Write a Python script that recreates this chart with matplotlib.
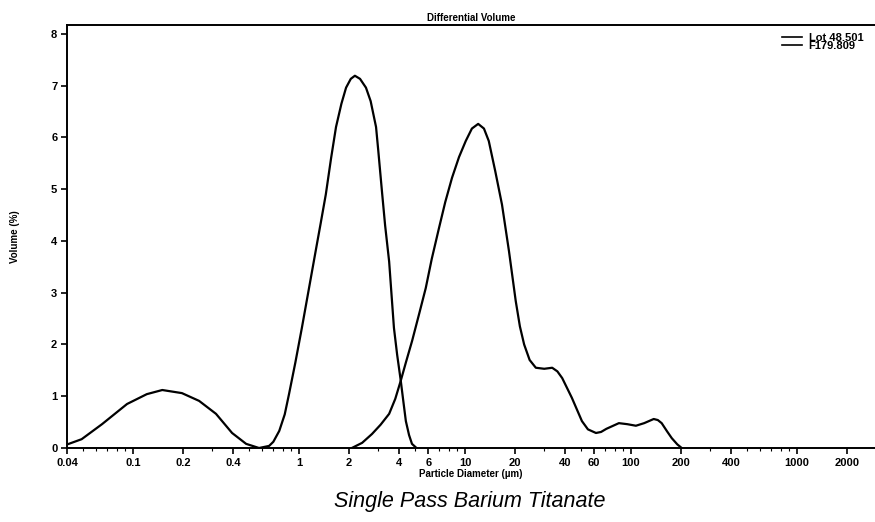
import matplotlib
matplotlib.use("Agg")
import matplotlib.pyplot as plt
from matplotlib.ticker import FixedLocator, NullFormatter, LogLocator

plt.rcParams['font.family'] = ['Liberation Sans', 'DejaVu Sans']

# Data
lot_x = [0.041, 0.049, 0.065, 0.092, 0.121, 0.15, 0.197, 0.25, 0.316, 0.395, 0.48, 0.574, 0.66,
         0.70, 0.76, 0.82, 0.87, 0.95, 1.04, 1.15, 1.27, 1.35, 1.45, 1.56, 1.67, 1.8, 1.92, 2.05,
         2.17, 2.33, 2.53, 2.7, 2.91, 3.0, 3.16, 3.3, 3.49, 3.6, 3.73, 3.9, 4.1, 4.25, 4.4, 4.6,
         4.79, 5.1]
lot_y = [0.08, 0.17, 0.46, 0.85, 1.04, 1.12, 1.06, 0.91, 0.66, 0.29, 0.08, 0.0, 0.04,
         0.12, 0.33, 0.65, 1.04, 1.65, 2.32, 3.1, 3.87, 4.34, 4.9, 5.6, 6.2, 6.65, 6.96, 7.13,
         7.19, 7.13, 6.96, 6.7, 6.2, 5.75, 4.95, 4.3, 3.6, 3.0, 2.32, 1.8, 1.3, 0.9, 0.52, 0.25,
         0.08, 0.0]

f_x = [2.08, 2.4, 2.75, 3.1, 3.49, 3.8, 4.1, 4.4, 4.8, 5.3, 5.8, 6.3, 6.97, 7.6, 8.35, 9.2,
       10.1, 11.0, 12.0, 13.0, 13.9, 15.2, 16.7, 18.4, 20.2, 21.4, 22.7, 24.5, 26.7, 30, 33.5,
       36, 38.5, 44, 50.6, 55, 61.5, 66, 71, 84.5, 95, 107, 120, 137, 145, 153, 165, 176, 190,
       202]
f_y = [0.0, 0.1, 0.27, 0.45, 0.66, 0.95, 1.3, 1.65, 2.07, 2.6, 3.09, 3.65, 4.25, 4.75, 5.22,
       5.62, 5.93, 6.17, 6.26, 6.17, 5.93, 5.35, 4.7, 3.8, 2.84, 2.35, 2.0, 1.7, 1.55, 1.53,
       1.55, 1.48, 1.35, 0.97, 0.52, 0.36, 0.29, 0.31, 0.37, 0.48, 0.46, 0.43, 0.48, 0.56, 0.54,
       0.48, 0.32, 0.19, 0.07, 0.0]

series_labels = ["Lot 48.501", "F179.809"]
x_ticks = [0.04, 0.1, 0.2, 0.4, 1, 2, 4, 6, 10, 20, 40, 60, 100, 200, 400, 1000, 2000]
x_tick_labels = ["0.04", "0.1", "0.2", "0.4", "1", "2", "4", "6", "10", "20", "40", "60",
                 "100", "200", "400", "1000", "2000"]
y_ticks = [0, 1, 2, 3, 4, 5, 6, 7, 8]

fig = plt.figure(figsize=(8.75, 5.22), dpi=100)
ax = fig.add_axes([67/875, 1 - 448/522, 1 - 67/875, (448 - 25)/522])

ax.plot(lot_x, lot_y, color="black", lw=1.6, label=series_labels[0], solid_joinstyle="round")
ax.plot(f_x, f_y, color="black", lw=1.6, label=series_labels[1], solid_joinstyle="round")

ax.set_xscale("log")
ax.set_xlim(0.04, 2950)
ax.set_ylim(0, 8.17)
ax.xaxis.set_major_locator(FixedLocator(x_ticks))
ax.set_xticklabels(x_tick_labels, fontsize=8, fontweight="bold")
ax.xaxis.set_minor_locator(LogLocator(base=10, subs=range(1, 10), numticks=20))
ax.xaxis.set_minor_formatter(NullFormatter())
ax.set_yticks(y_ticks)
ax.set_yticklabels([str(v) for v in y_ticks], fontsize=8, fontweight="bold")
ax.tick_params(axis="both", which="major", length=4, width=1.2, pad=3)
ax.tick_params(axis="x", which="minor", length=2, width=0.8)
for s in ["left", "bottom", "top"]:
    ax.spines[s].set_linewidth(1.4)
ax.spines["right"].set_visible(False)

ax.set_title("Differential Volume", fontsize=7, fontweight="bold", pad=3)
ax.set_xlabel("Particle Diameter (µm)", fontsize=7, fontweight="bold", labelpad=1)
ax.set_ylabel("Volume (%)", fontsize=7, fontweight="bold", labelpad=22)

leg = ax.legend(loc="upper right", fontsize=8, frameon=False, handlelength=1.8,
                labelspacing=-0.15, borderaxespad=0.3, handletextpad=0.6,
                bbox_to_anchor=(0.995, 1.0))
for t in leg.get_texts():
    t.set_fontweight("bold")
for h in leg.get_lines():
    h.set_linewidth(1.2)

fig.text(470/875, 1 - 502/522, "Single Pass Barium Titanate", fontsize=15.5, style="italic",
         ha="center", va="center")

fig.savefig("out.png", dpi=100)
